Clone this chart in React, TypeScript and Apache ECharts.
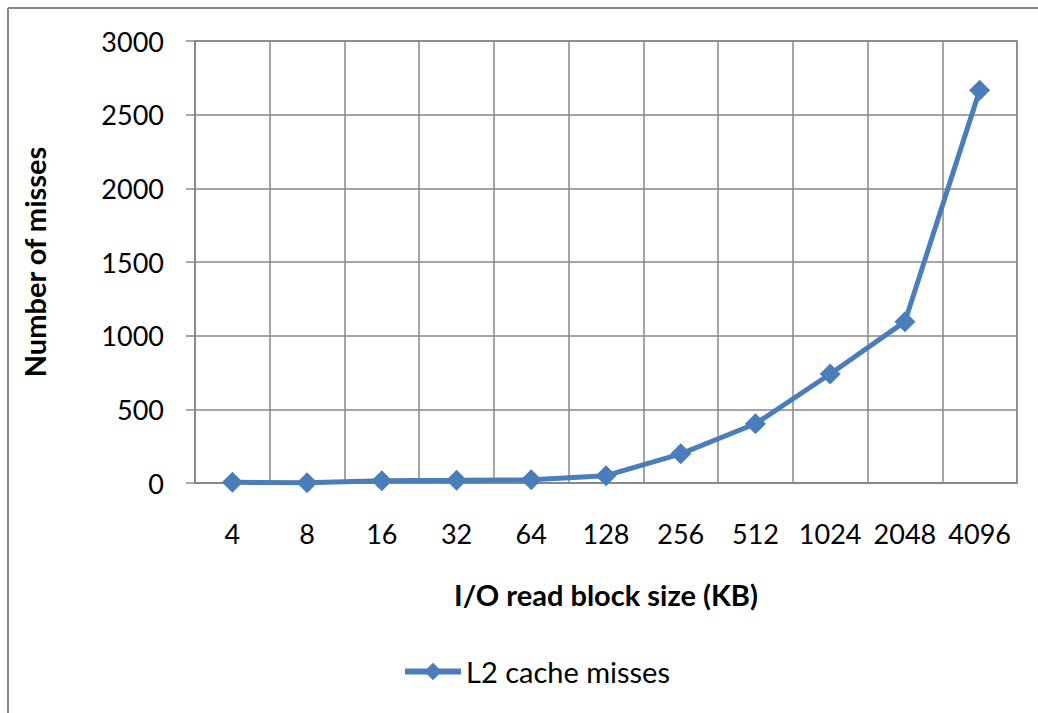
import React, { useEffect, useRef } from "react";
import * as echarts from "echarts";

const categories = ["4", "8", "16", "32", "64", "128", "256", "512", "1024", "2048", "4096"];
const l2Misses = [5, 2, 15, 18, 22, 50, 198, 402, 740, 1095, 2665];
const yTicks = { min: 0, max: 3000, interval: 500 };

const FONT = "Lato, 'Noto Sans', sans-serif";
const GRID_COLOR = "#878787";
const LINE_COLOR = "#4a7ebb";

export default function App() {
  const ref = useRef<HTMLDivElement>(null);
  useEffect(() => {
    document.body.style.margin = "0";
    document.body.style.overflow = "hidden";
    const chart = echarts.init(ref.current!, null, { renderer: "svg" });
    chart.setOption({
      animation: false,
      backgroundColor: "#ffffff",
      textStyle: { fontFamily: FONT },
      graphic: [
        { type: "line", shape: { x1: 8, y1: 8, x2: 1038, y2: 8 }, style: { stroke: GRID_COLOR, lineWidth: 2 } },
        { type: "line", shape: { x1: 8, y1: 8, x2: 8, y2: 713 }, style: { stroke: GRID_COLOR, lineWidth: 2 } },
      ],
      grid: {
        left: 195,
        top: 41,
        right: 21,
        bottom: 230,
        show: true,
        borderColor: GRID_COLOR,
        borderWidth: 1.5,
      },
      legend: {
        data: ["L2 cache misses"],
        bottom: 22,
        left: 397,
        itemWidth: 56,
        itemHeight: 22,
        itemGap: 4,
        lineStyle: { width: 6 },
        textStyle: { fontSize: 29, color: "#000", fontFamily: FONT },
      },
      xAxis: {
        type: "category",
        data: categories,
        boundaryGap: true,
        name: "I/O read block size (KB)",
        nameLocation: "middle",
        nameGap: 97,
        nameTextStyle: { fontSize: 29, fontWeight: "bold", color: "#000", fontFamily: FONT },
        axisLine: { show: true, lineStyle: { color: GRID_COLOR, width: 1.5 } },
        axisTick: { show: false, interval: 0 },
        axisLabel: { fontSize: 27, color: "#000", margin: 37, fontFamily: FONT, interval: 0, hideOverlap: false },
        splitLine: { show: true, interval: 0, lineStyle: { color: GRID_COLOR, width: 1.5 } },
      },
      yAxis: {
        type: "value",
        min: yTicks.min,
        max: yTicks.max,
        interval: yTicks.interval,
        name: "Number of misses",
        nameLocation: "middle",
        nameGap: 146,
        nameTextStyle: { fontSize: 29, fontWeight: "bold", color: "#000", fontFamily: FONT },
        axisLine: { show: true, lineStyle: { color: GRID_COLOR, width: 1.5 } },
        axisTick: { show: true, length: 9, lineStyle: { color: GRID_COLOR, width: 1.5 } },
        axisLabel: {
          fontSize: 27,
          color: "#000",
          margin: 31,
          fontFamily: FONT,
          formatter: (v: number) => String(v),
        },
        splitLine: { show: true, lineStyle: { color: GRID_COLOR, width: 1.5 } },
      },
      series: [
        {
          name: "L2 cache misses",
          type: "line",
          data: l2Misses,
          symbol: "diamond",
          symbolSize: 21,
          lineStyle: { color: LINE_COLOR, width: 5 },
          itemStyle: { color: LINE_COLOR },
        },
      ],
    });
    return () => chart.dispose();
  }, []);
  return <div ref={ref} style={{ width: 1038, height: 713 }} />;
}
